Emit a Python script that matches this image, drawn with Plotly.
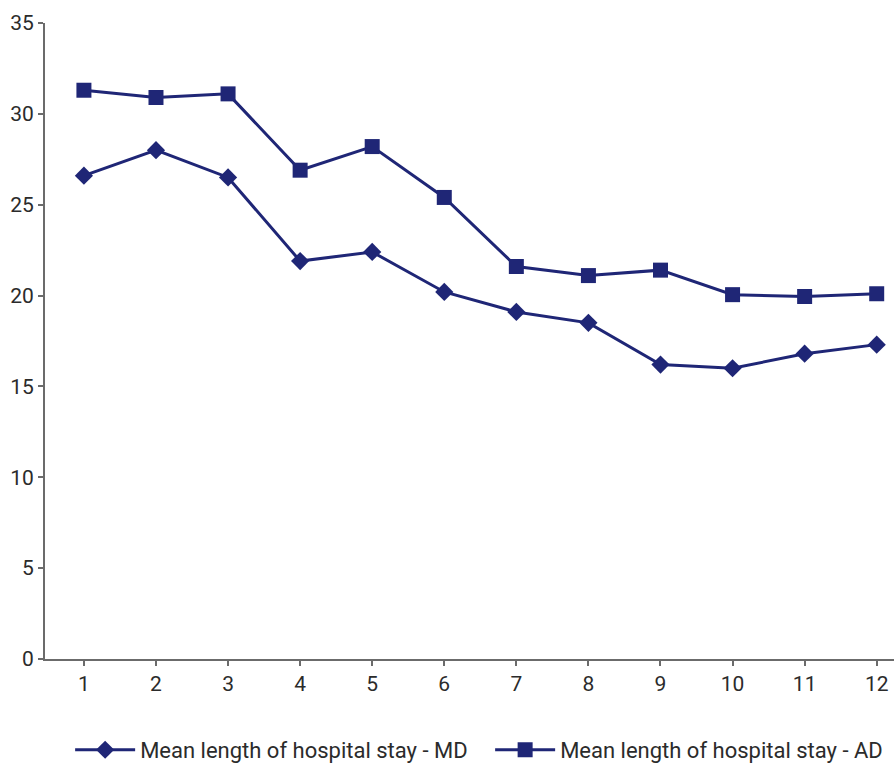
import plotly.graph_objects as go

# Period index on the x axis
periods = [1, 2, 3, 4, 5, 6, 7, 8, 9, 10, 11, 12]

# Mean length of hospital stay (days)
stay_md = [26.6, 28.0, 26.5, 21.9, 22.4, 20.2, 19.1, 18.5, 16.2, 16.0, 16.8, 17.3]
stay_ad = [31.3, 30.9, 31.1, 26.9, 28.2, 25.4, 21.6, 21.1, 21.4, 20.05, 19.95, 20.1]

y_ticks = [0, 5, 10, 15, 20, 25, 30, 35]

navy = "#1f2676"
axis_grey = "#6b6b6b"
text_col = "#2b2b2b"

fig = go.Figure()
fig.add_trace(go.Scatter(
    x=periods, y=stay_md, mode="lines+markers",
    name="Mean length of hospital stay - MD",
    line=dict(color=navy, width=3),
    marker=dict(symbol="diamond", size=14, color=navy),
))
fig.add_trace(go.Scatter(
    x=periods, y=stay_ad, mode="lines+markers",
    name="Mean length of hospital stay - AD",
    line=dict(color=navy, width=3),
    marker=dict(symbol="square", size=15, color=navy),
))

fig.update_layout(
    width=894, height=763,
    margin=dict(l=45, r=0, t=23, b=104, autoexpand=False),
    paper_bgcolor="white", plot_bgcolor="white",
    font=dict(family="Roboto", size=21, color=text_col),
    showlegend=True,
    legend=dict(
        orientation="h", x=0.0296, xanchor="left", y=-0.143, yanchor="middle",
        font=dict(size=22, color=text_col), itemwidth=60,
        entrywidth=345, traceorder="normal",
    ),
)
fig.update_xaxes(
    range=[0.46, 12.24], tickvals=periods, ticktext=[str(p) for p in periods],
    showgrid=False, zeroline=False,
    showline=True, linecolor=axis_grey, linewidth=2,
    ticks="outside", ticklen=5, tickcolor=axis_grey, tickwidth=2,
)
fig.update_yaxes(
    range=[0, 35], tickvals=y_ticks,
    showgrid=False, zeroline=False,
    showline=True, linecolor=axis_grey, linewidth=2,
    ticks="outside", ticklen=5, tickcolor=axis_grey, tickwidth=2,
)

fig.write_html("out.html")
